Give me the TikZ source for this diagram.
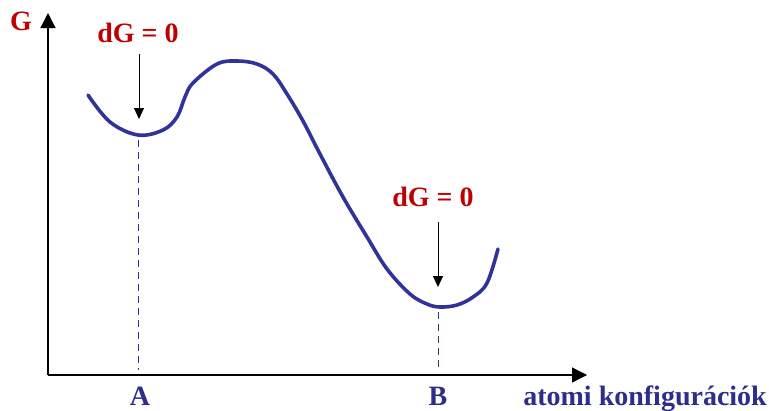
\documentclass[tikz,border=0pt]{standalone}
\usepackage{fontspec}
\setmainfont{Liberation Serif}
\usetikzlibrary{arrows.meta}
\definecolor{dred}{RGB}{192,0,0}
\definecolor{dblue}{RGB}{45,45,140}
\definecolor{cblue}{RGB}{50,50,155}
\begin{document}
\begin{tikzpicture}[x=1pt,y=-1pt,
  axis/.style={line width=1.3pt,-{Triangle[length=15pt,width=15pt]}},
  lbl/.style={font=\fontsize{28}{30}\selectfont\bfseries,inner sep=0pt},
  marker/.style={line width=1pt,-{Triangle[length=11pt,width=10pt]}},
  guide/.style={cblue,line width=0.8pt,dash pattern=on 7pt off 5pt}]
\useasboundingbox (0,0) rectangle (769,410);
\coordinate (O) at (48,375);
\coordinate (Ytop) at (48,13);
\coordinate (Xend) at (587,375);
\draw[axis] (O) -- (Ytop);
\draw[axis] (O) -- (Xend);
\node[lbl,dred] (G) at (21,21) {G};
\node[lbl,dblue,anchor=base east] (xl) at (767,405) {atomi konfigurációk};
\node[lbl,dblue,anchor=base] (A) at (140,405) {A};
\node[lbl,dblue,anchor=base] (B) at (438,405) {B};
\node[lbl,dred] (dg1) at (138,33) {dG = 0};
\node[lbl,dred] (dg2) at (433,197) {dG = 0};
\coordinate (a1) at (139,54);
\coordinate (a2) at (139,119);
\coordinate (b1) at (438,222);
\coordinate (b2) at (438,287);
\draw[marker] (a1) -- (a2);
\draw[marker] (b1) -- (b2);
\coordinate (amin) at (138,140);
\coordinate (bmin) at (438,312);
\coordinate (abot) at (138,370);
\coordinate (bbot) at (438,370);
\draw[guide] (amin) -- (abot);
\draw[guide] (bmin) -- (bbot);
\draw[cblue,line width=3.6pt,line cap=round] plot[smooth,tension=0.6] coordinates {
(88,95) (110,122) (138,135) (163,130) (177,117) (185,97) (193,83) (217,64) (237,61)
(257,64) (273,74) (287,94) (303,121) (320,154) (343,197) (367,237) (387,269)
(410,294) (427,304) (440,307) (457,305) (473,297) (487,283) (498,249)};
\end{tikzpicture}
\end{document}
